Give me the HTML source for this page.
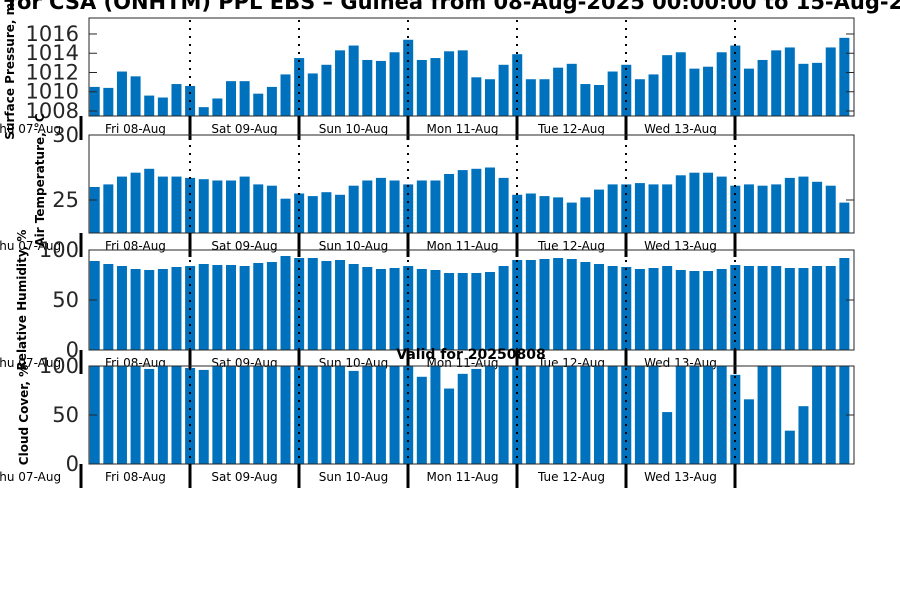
<!DOCTYPE html>
<html><head><meta charset="utf-8"><style>
body{margin:0;background:#fff}
svg{display:block;font-family:"DejaVu Sans","Liberation Sans",sans-serif}
</style></head><body>
<svg id="c" width="900" height="600" viewBox="0 0 900 600"></svg>
<script>
const days=["Thu 07-Aug","Fri 08-Aug","Sat 09-Aug","Sun 10-Aug","Mon 11-Aug","Tue 12-Aug","Wed 13-Aug"];
const pressure=[1010.5,1010.4,1012.1,1011.6,1009.6,1009.4,1010.8,1010.6,1008.4,1009.3,1011.1,1011.1,1009.8,1010.5,1011.8,1013.5,1011.9,1012.8,1014.3,1014.8,1013.3,1013.2,1014.1,1015.4,1013.3,1013.5,1014.2,1014.3,1011.5,1011.3,1012.8,1013.9,1011.3,1011.3,1012.5,1012.9,1010.8,1010.7,1012.1,1012.8,1011.3,1011.8,1013.8,1014.1,1012.4,1012.6,1014.1,1014.8,1012.4,1013.3,1014.3,1014.6,1012.9,1013.0,1014.6,1015.6];
const temperature=[26.0,26.2,26.8,27.1,27.4,26.8,26.8,26.7,26.6,26.5,26.5,26.8,26.2,26.1,25.1,25.5,25.3,25.6,25.4,26.1,26.5,26.7,26.5,26.2,26.5,26.5,27.0,27.3,27.4,27.5,26.7,25.4,25.5,25.3,25.2,24.8,25.2,25.8,26.2,26.2,26.3,26.2,26.2,26.9,27.1,27.1,26.8,26.1,26.2,26.1,26.2,26.7,26.8,26.4,26.1,24.8];
const humidity=[89,86,84,81,80,81,83,84,86,85,85,84,87,88,94,92,92,89,90,86,83,81,82,84,81,80,77,77,77,78,84,90,90,91,92,91,88,86,84,83,81,82,84,80,79,79,81,85,84,84,84,82,82,84,84,92];
const cloud=[100,100,100,100,97,100,100,98,96,100,100,100,100,100,100,100,100,100,100,95,100,100,100,100,89,100,77,92,97,100,100,100,100,100,100,100,100,100,100,100,100,100,53,100,100,100,100,91,66,100,100,34,59,100,100,100];
const pTicks=[1008,1010,1012,1014,1016];
const tTicks=[25,30];
const hTicks=[0,50,100];

const NS="http://www.w3.org/2000/svg";
const svg=document.getElementById('c');
function mk(tag,attrs,parent){const e=document.createElementNS(NS,tag);for(const k in attrs)e.setAttribute(k,attrs[k]);(parent||svg).appendChild(e);return e;}
const X0=89,X1=854;
function xIdx(i){return 94.7+13.63*i;}
function xDay(d){return 81+109*d;}

const panels=[
 {name:"pressure",data:pressure,ticks:pTicks,top:18,bot:116,min:1007.48,max:1017.66,label:"Surface Pressure, mb",lx:14,ly:67},
 {name:"temperature",data:temperature,ticks:tTicks,top:135,bot:233,min:22.46,max:30,label:"Air Temperature, °C",lx:44,ly:180},
 {name:"humidity",data:humidity,ticks:hTicks,top:250,bot:350,min:0,max:100,label:"Relative Humidity, %",lx:26,ly:300},
 {name:"cloud-cover",data:cloud,ticks:hTicks,top:366,bot:464,min:0,max:100,label:"Cloud Cover, %",lx:28,ly:415}
];

panels.forEach(p=>{
 const g=mk('g',{});
 
 
 const y=v=>p.bot-(v-p.min)/(p.max-p.min)*(p.bot-p.top);
 p.data.forEach((v,i)=>{
  const yt=Math.max(p.top,y(v));
  const r=mk('rect',{x:xIdx(i)-5,y:yt,width:10,height:p.bot-yt,fill:'#0072bd'},g);
  
  
 });
 for(let d=1;d<days.length;d++){
  const l=mk('line',{x1:xDay(d),x2:xDay(d),y1:p.top+2,y2:p.bot,stroke:'#000','stroke-width':2,'stroke-dasharray':'2,6'},g);
  
  
 }
 const fr=mk('rect',{x:X0,y:p.top,width:X1-X0,height:p.bot-p.top,fill:'none',stroke:'#262626','stroke-width':1},g);
 
 
 p.ticks.forEach(t=>{
  const ty=y(t);
  mk('line',{x1:X1-8,x2:X1,y1:ty,y2:ty,stroke:'#262626'},g);
  mk('line',{x1:X0,x2:X0+8,y1:ty,y2:ty,stroke:'#262626'},g);
  const tx=mk('text',{x:79,y:ty+7,'text-anchor':'end','font-size':21,fill:'#262626'},g);
  tx.textContent=t;
  
  
 });
 days.forEach((d,i)=>{
  const tk=mk('line',{x1:xDay(i),x2:xDay(i),y1:p.bot,y2:p.bot+24,stroke:'#000','stroke-width':3},g);
  
  
  const tx=mk('text',{x:xDay(i)-54.5,y:p.bot+17,'text-anchor':'middle','font-size':12,fill:'#000'},g);
  tx.textContent=d;
  
  
 });
 const yl=mk('text',{x:p.lx,y:p.ly,'text-anchor':'middle','font-size':12,'font-weight':'bold',fill:'#000',transform:`rotate(-90 ${p.lx} ${p.ly})`},g);
 yl.textContent=p.label;
 
 
});
const ttl=mk('text',{x:-12,y:9,'font-size':21,'font-weight':'bold',fill:'#000'});
ttl.textContent="s for CSA (ONHTM) PPL EBS  – Guinea from 08-Aug-2025 00:00:00 to 15-Aug-2025";


const vf=mk('text',{x:471,y:359,'text-anchor':'middle','font-size':14,'font-weight':'bold',fill:'#000'});
vf.textContent="Valid for 20250808";


</script>
</body></html>
